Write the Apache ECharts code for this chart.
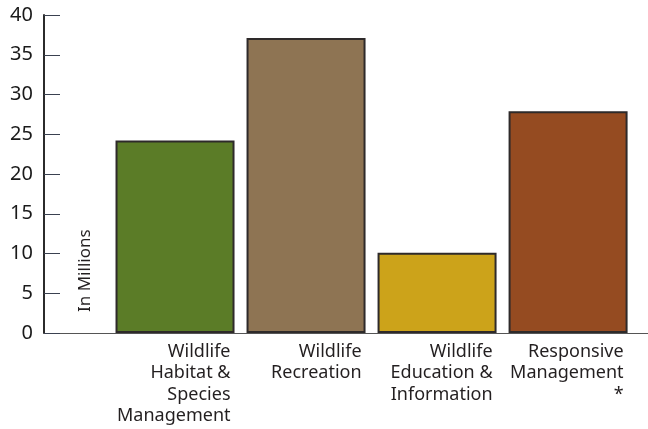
<!DOCTYPE html>
<html>
<head>
<meta charset="utf-8">
<script src="https://cdn.jsdelivr.net/npm/echarts@6/dist/echarts.min.js"></script>
<style>html,body{margin:0;padding:0;background:#fff}#c{width:648px;height:429px}</style>
</head>
<body>
<div id="c"></div>
<script>
const categories = [
  "Wildlife\nHabitat &\nSpecies\nManagement",
  "Wildlife\nRecreation",
  "Wildlife\nEducation &\nInformation",
  "Responsive\nManagement\n*"
];
const values = [24.2, 37.1, 10.1, 27.9];
const barColors = ["#5b7c27", "#8e7453", "#cca31a", "#954b21"];
const yTicks = [0, 5, 10, 15, 20, 25, 30, 35, 40];
const yTitle = "In Millions";

const FONT = "Noto Sans";
const chart = echarts.init(document.getElementById('c'), null, {renderer: 'canvas'});
chart.setOption({
  animation: false,
  grid: {left: 44, right: 0, top: 15, bottom: 96},
  xAxis: {
    type: 'value', min: -1, max: 3.61, interval: 1,
    splitLine: {show: false},
    axisTick: {show: false},
    axisLine: {show: true, onZero: false, lineStyle: {color: '#555', width: 1}},
    axisLabel: {
      margin: 8,
      showMinLabel: false, showMaxLabel: false,
      formatter: function (v) {
        const i = Math.round(v);
        if (Math.abs(v - i) > 1e-6 || i < 0 || i >= categories.length) return '';
        return categories[i].split('\n').map(s => '{r|' + s + '}').join('\n');
      },
      rich: {r: {align: 'right', width: 111, fontSize: 18, lineHeight: 21.5, fontFamily: FONT, color: '#231f20'}}
    }
  },
  yAxis: {
    type: 'value', min: yTicks[0], max: yTicks[yTicks.length - 1], interval: 5,
    splitLine: {show: false},
    axisLine: {show: true, onZero: false, lineStyle: {color: '#2b2b2b', width: 2}},
    axisTick: {show: true, inside: true, length: 16, lineStyle: {color: '#3a4150', width: 1}},
    axisLabel: {margin: 11, fontSize: 20, fontFamily: FONT, color: '#1a1a1a'}
  },
  graphic: [{
    type: 'text', x: 94, y: 312, rotation: Math.PI / 2,
    style: {text: yTitle, fontSize: 17, fontFamily: FONT, fill: '#231f20', align: 'left', verticalAlign: 'bottom'}
  }],
  series: [{
    type: 'bar',
    barWidth: 119,
    data: values.map((v, i) => ({value: [i, v], itemStyle: {color: barColors[i]}})),
    itemStyle: {borderColor: '#2e2a2a', borderWidth: 2}
  }]
});
</script>
</body>
</html>
